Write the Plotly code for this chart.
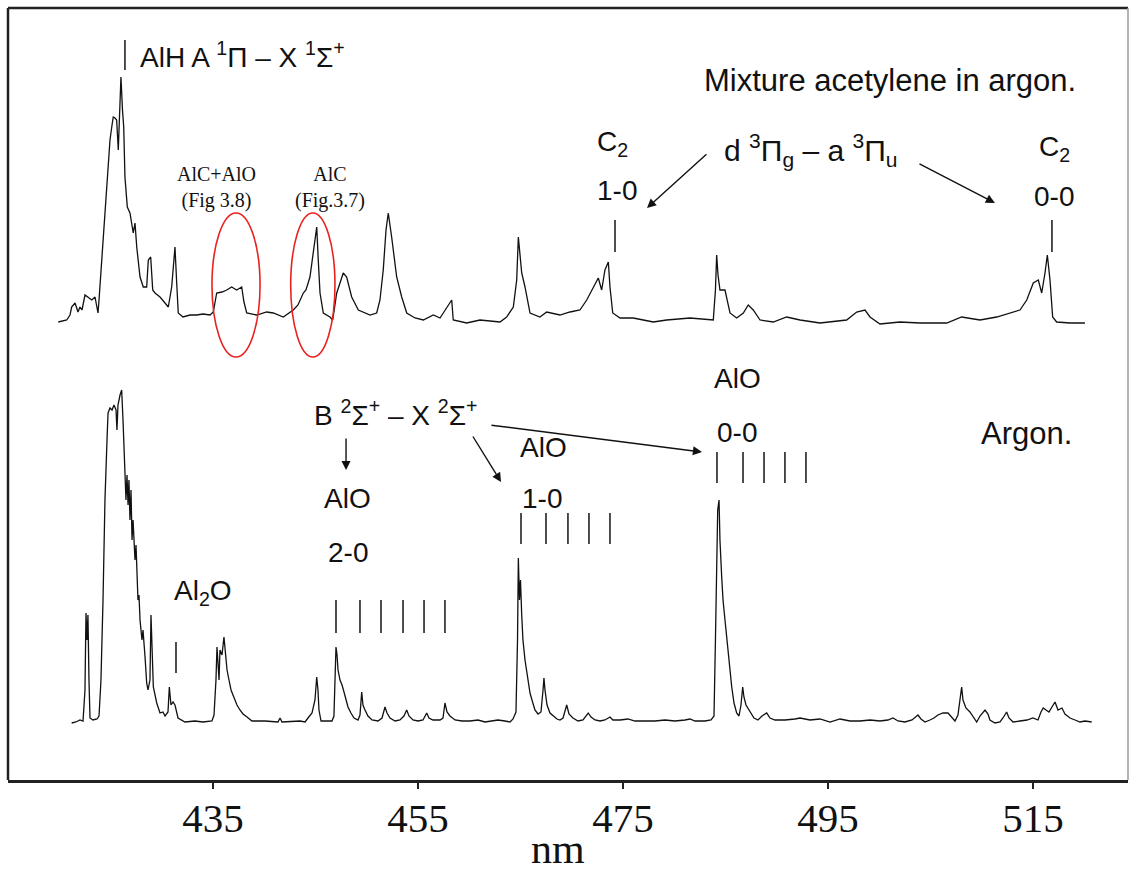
import plotly.graph_objects as go

# ---- spectra (wavelength in nm, emission intensity in arbitrary units above baseline) ----
argon_nm = [421.21, 421.63, 422.02, 422.32, 422.51, 422.61, 422.71, 422.80, 422.90, 423.00,
            423.29, 423.68, 423.88, 424.07, 424.27, 424.46, 424.66, 424.76, 424.95, 425.15,
            425.34, 425.54, 425.63, 425.73, 425.93, 426.09, 426.22, 426.32, 426.41, 426.51,
            426.61, 426.71, 426.80, 426.90, 427.00, 427.10, 427.20, 427.39, 427.49, 427.59,
            427.68, 427.78, 427.88, 428.07, 428.17, 428.37, 428.53, 428.66, 428.85, 428.95,
            429.05, 429.18, 429.51, 429.83, 430.12, 430.32, 430.61, 430.74, 430.90, 431.10,
            431.29, 431.49, 431.59, 432.27, 433.24, 434.02, 434.90, 435.10, 435.29, 435.39,
            435.49, 435.59, 435.68, 435.88, 436.07, 436.17, 436.37, 436.56, 436.76, 436.95,
            437.15, 437.34, 437.63, 437.93, 438.32, 438.80, 440.07, 441.34, 441.54, 441.73,
            443.49, 443.98, 444.27, 444.66, 444.95, 445.12, 445.24, 445.34, 445.54, 446.61,
            446.80, 447.00, 447.10, 447.20, 447.39, 447.59, 447.78, 447.98, 448.17, 448.46,
            448.76, 449.15, 449.34, 449.51, 449.63, 449.83, 450.12, 450.51, 451.10, 451.49,
            451.78, 451.98, 452.27, 452.76, 453.24, 453.63, 453.90, 454.12, 454.51, 455.00,
            455.49, 455.85, 456.07, 456.46, 457.15, 457.44, 457.63, 457.83, 458.12, 458.61,
            459.29, 460.07, 460.85, 461.54, 462.22, 462.80, 463.49, 463.98, 464.27, 464.56,
            464.71, 464.79, 464.90, 465.00, 465.12, 465.24, 465.44, 465.63, 465.93, 466.12,
            466.41, 466.71, 467.00, 467.20, 467.29, 467.39, 467.59, 467.88, 468.17, 468.56,
            468.85, 469.15, 469.51, 469.73, 470.12, 470.61, 471.10, 471.39, 471.61, 471.88,
            472.27, 472.76, 473.24, 473.73, 474.02, 474.71, 475.49, 476.17, 477.15, 478.12,
            479.10, 480.07, 481.05, 481.54, 482.02, 483.00, 483.59, 483.88, 484.02, 484.12,
            484.24, 484.37, 484.46, 484.63, 484.76, 484.95, 485.15, 485.27, 485.44, 485.61,
            485.83, 486.09, 486.32, 486.51, 486.68, 486.80, 487.00, 487.39, 487.78, 488.17,
            488.56, 489.02, 489.34, 489.83, 490.80, 491.78, 492.27, 493.24, 494.22, 495.20,
            496.17, 497.15, 498.12, 499.10, 500.07, 500.85, 501.34, 501.83, 502.51, 503.20,
            503.49, 503.78, 504.07, 504.46, 504.95, 505.34, 505.73, 506.22, 506.71, 507.10,
            507.39, 507.68, 508.04, 508.17, 508.46, 508.85, 509.15, 509.51, 509.83, 510.32,
            510.61, 510.80, 511.29, 511.78, 512.07, 512.43, 512.66, 513.05, 513.73, 514.41,
            515.00, 515.49, 515.78, 516.00, 516.27, 516.56, 516.85, 517.15, 517.44, 517.83,
            518.12, 518.61, 519.10, 519.59, 520.07, 520.73]
argon_int = [-1, 0, 2, 1, 32, 109, 82, 107, 42, 4,
             2, 3, 6, 42, 122, 222, 282, 309, 314, 312,
             317, 312, 292, 317, 327, 332, 302, 267, 252, 222,
             247, 217, 242, 202, 232, 182, 202, 162, 177, 142,
             122, 127, 102, 82, 92, 65, 39, 32, 42, 107,
             62, 35, 19, 9, 10, 6, 10, 35, 17, 20,
             17, 10, 4, 0, 1, 0, 1, 7, 42, 75,
             62, 42, 72, 67, 85, 72, 52, 42, 32, 27,
             22, 17, 12, 8, 5, 1, 1, 0, 4, 0,
             1, 0, 4, 9, 22, 45, 32, 12, 1, 1,
             6, 75, 67, 52, 42, 37, 30, 22, 15, 9,
             4, 2, 7, 30, 17, 12, 6, 2, 1, 4,
             15, 9, 4, 1, 2, 6, 12, 6, 2, 1,
             2, 9, 4, 2, 2, 4, 19, 10, 6, 2,
             1, 1, 2, 0, 1, 2, 1, 0, 3, 10,
             82, 164, 122, 142, 107, 82, 62, 47, 29, 22,
             12, 8, 10, 32, 44, 32, 17, 9, 6, 3,
             2, 4, 17, 8, 4, 1, 2, 6, 9, 5,
             2, 1, 2, 5, 2, 2, 3, 1, 1, 1,
             2, 1, 2, 3, 1, 1, 2, 6, 82, 162,
             212, 222, 182, 145, 122, 102, 82, 69, 50, 35,
             19, 9, 6, 17, 35, 25, 17, 10, 4, 2,
             6, 9, 4, 2, 2, 3, 4, 2, 3, 0,
             3, 1, 1, 2, 1, 2, 4, 1, 0, 2,
             5, 7, 3, 0, 2, 4, 7, 9, 9, 4,
             1, 7, 35, 22, 14, 10, 5, 0, 6, 12,
             8, 2, -1, 0, 4, 10, 4, 0, 1, 2,
             4, 2, 10, 14, 12, 10, 15, 20, 12, 14,
             8, 4, 2, 0, 1, 0]

mixture_nm = [419.91, 420.27, 420.73, 421.05, 421.21, 421.54, 421.83, 422.02, 422.22, 422.51,
              422.80, 423.17, 423.49, 423.78, 423.88, 424.07, 424.46, 424.76, 424.95, 425.15,
              425.27, 425.44, 425.60, 425.76, 425.88, 426.02, 426.17, 426.29, 426.41, 426.64,
              426.90, 427.22, 427.39, 427.56, 427.88, 428.20, 428.53, 428.69, 428.92, 429.12,
              429.34, 429.83, 430.32, 430.64, 430.97, 431.29, 431.46, 431.61, 432.07, 432.76,
              433.41, 434.02, 434.71, 435.03, 435.36, 435.88, 436.34, 436.82, 437.31, 437.80,
              438.02, 438.29, 439.26, 440.24, 440.88, 441.86, 442.83, 443.29, 443.81, 444.07,
              444.46, 444.79, 445.12, 445.27, 445.44, 445.76, 446.41, 446.68, 447.07, 447.39,
              447.71, 448.04, 448.53, 449.18, 450.32, 450.97, 451.29, 451.61, 451.88, 452.10,
              452.27, 452.43, 452.92, 453.41, 453.90, 454.71, 455.52, 456.49, 457.15, 457.80,
              458.29, 458.44, 459.75, 461.05, 463.00, 463.65, 464.30, 464.63, 464.79, 465.12,
              465.44, 465.93, 466.90, 467.56, 468.85, 469.83, 470.80, 471.46, 472.10, 472.59,
              472.92, 473.24, 473.57, 473.73, 474.00, 474.71, 476.00, 477.96, 479.26, 481.54,
              483.81, 484.02, 484.14, 484.27, 484.46, 484.95, 485.44, 486.09, 486.74, 487.22,
              487.71, 488.37, 489.66, 490.97, 492.27, 494.22, 496.82, 497.44, 497.80, 498.61,
              499.10, 500.07, 502.02, 503.98, 506.58, 508.04, 509.83, 511.46, 512.76, 513.73,
              514.39, 515.03, 515.52, 515.85, 516.17, 516.40, 516.66, 516.92, 517.31, 518.61,
              520.07]
mixture_int = [0, 1, 2, 7, 15, 19, 10, 15, 12, 27,
               25, 22, 25, 9, 22, 52, 115, 157, 182, 197,
               205, 204, 202, 172, 202, 245, 212, 195, 145, 115,
               109, 89, 99, 75, 45, 35, 35, 62, 65, 32,
               29, 25, 19, 15, 35, 75, 39, 9, 5, 7,
               7, 8, 7, 10, 29, 30, 32, 35, 32, 35,
               20, 9, 7, 10, 9, 5, 12, 17, 29, 32,
               45, 69, 95, 62, 29, 9, 5, 2, 29, 39,
               49, 45, 25, 12, 7, 9, 22, 52, 92, 109,
               97, 85, 45, 25, 9, 4, 2, 7, 4, 14,
               22, 2, -1, 2, 0, 5, 15, 42, 85, 49,
               35, 9, 5, 10, 7, 10, 12, 22, 35, 44,
               32, 52, 60, 35, 9, 4, 4, 0, 2, 4,
               2, 32, 67, 47, 32, 32, 9, 4, 9, 17,
               12, 2, 0, 5, 2, -1, 2, 7, 10, 12,
               5, -2, 0, -1, -1, 5, 2, 5, 9, 12,
               22, 39, 42, 29, 49, 67, 42, 5, 0, -1,
               -1]

# ---- band-head markers (nm) ----
alh_head = [426.41]
al2o_head = [431.39]
c2_heads = [474.22, 516.85]
alo_20_heads = [447.00, 449.34, 451.39, 453.54, 455.59, 457.63]
alo_10_heads = [465.05, 467.49, 469.63, 471.68, 473.73]
alo_00_heads = [484.17, 486.71, 488.76, 490.80, 492.85]

x_ticks = [435, 455, 475, 495, 515]

ARGON_OFFSET = 58
MIXTURE_OFFSET = 458

SANS = "Liberation Sans, Arial, sans-serif"
SERIF = "Liberation Serif, Times New Roman, serif"
INK = "#111111"

fig = go.Figure()
fig.add_trace(go.Scatter(x=argon_nm, y=[v + ARGON_OFFSET for v in argon_int],
                         mode="lines", line=dict(color=INK, width=1.3), hoverinfo="skip"))
fig.add_trace(go.Scatter(x=mixture_nm, y=[v + MIXTURE_OFFSET for v in mixture_int],
                         mode="lines", line=dict(color=INK, width=1.3), hoverinfo="skip"))

shapes = []


def marks(heads, y0, y1, color="#222222", width=1.6):
    for h in heads:
        shapes.append(dict(type="line", xref="x", yref="y", x0=h, x1=h, y0=y0, y1=y1,
                           line=dict(color=color, width=width)))


marks(alh_head, 710, 740)
marks(al2o_head, 107, 138)
marks(c2_heads, 528, 560)
marks(alo_20_heads, 147, 180)
marks(alo_10_heads, 236, 267)
marks(alo_00_heads, 297, 328)

# red ellipses around the AlC / AlO features
for x0, x1 in [(434.90, 439.59), (442.58, 446.90)]:
    shapes.append(dict(type="circle", xref="x", yref="y", x0=x0, x1=x1, y0=423, y1=567,
                       line=dict(color="#e8231f", width=1.6)))

# frame
shapes += [
    dict(type="line", xref="paper", yref="paper", x0=0, x1=1, y0=1, y1=1,
         line=dict(color="#222222", width=2.5)),
    dict(type="line", xref="paper", yref="paper", x0=0, x1=0, y0=0, y1=1,
         line=dict(color="#222222", width=2.5)),
    dict(type="line", xref="paper", yref="paper", x0=1, x1=1, y0=0, y1=1,
         line=dict(color="#9a9a9a", width=1.5)),
]

ann = []


def label(x, y, text, size=28, font=SANS, xanchor="center"):
    ann.append(dict(x=x, y=y, xref="x", yref="y", text=text, showarrow=False,
                    xanchor=xanchor, yanchor="middle",
                    font=dict(family=font, size=size, color=INK)))


def arrow(x_tail, y_tail, x_head, y_head):
    ann.append(dict(x=x_head, y=y_head, ax=x_tail, ay=y_tail, xref="x", yref="y",
                    axref="x", ayref="y", text="", showarrow=True, arrowhead=2,
                    arrowsize=1.3, arrowwidth=1.4, arrowcolor=INK))


label(427.68, 725, "AlH A <sup>1</sup>Π – X <sup>1</sup>Σ<sup>+</sup>", size=28, xanchor="left")
label(519.39, 700, "Mixture acetylene in argon.", size=31, xanchor="right")
label(435.39, 593, "AlC+AlO<br>(Fig 3.8)", size=20, font=SERIF)
label(446.41, 593, "AlC<br>(Fig.3.7)", size=20, font=SERIF)
label(474.02, 637, "C<sub>2</sub>")
label(474.41, 590, "1-0")
label(517.05, 632, "C<sub>2</sub>")
label(517.05, 584, "0-0")
label(493.39, 630, "d <sup>3</sup>Π<sub>g</sub> – a <sup>3</sup>Π<sub>u</sub>", size=30)
arrow(483.29, 627, 477.34, 572)
arrow(503.78, 617, 511.29, 577)

label(452.80, 367, "B <sup>2</sup>Σ<sup>+</sup> – X <sup>2</sup>Σ<sup>+</sup>")
arrow(447.98, 343, 447.98, 310)
arrow(460.27, 345, 463.10, 298)
arrow(462.02, 355, 482.71, 328)
label(448.17, 282, "AlO")
label(448.17, 228, "2-0")
label(434.02, 188, "Al<sub>2</sub>O")
label(467.20, 333, "AlO")
label(467.10, 282, "1-0")
label(486.22, 402, "AlO")
label(486.12, 348, "0-0")
label(514.41, 347, "Argon.", size=31)

ann.append(dict(x=0.491, y=-0.09, xref="paper", yref="paper", text="nm", showarrow=False,
                xanchor="center", yanchor="middle",
                font=dict(family=SERIF, size=42, color=INK)))

fig.update_layout(
    width=1131, height=874,
    margin=dict(l=8, r=3, t=8, b=94),
    paper_bgcolor="white", plot_bgcolor="white",
    showlegend=False,
    shapes=shapes, annotations=ann,
    xaxis=dict(range=[415, 524.27], tickvals=x_ticks, ticktext=[str(t) for t in x_ticks],
               showgrid=False, zeroline=False, showline=True, linewidth=3, linecolor="#222222",
               ticks="outside", ticklen=6, tickwidth=1.5, tickcolor="#222222",
               ticklabelstandoff=-6,
               tickfont=dict(family=SERIF, size=41, color=INK)),
    yaxis=dict(range=[0, 772], visible=False, showgrid=False, zeroline=False),
)

fig.write_html("out.html")
